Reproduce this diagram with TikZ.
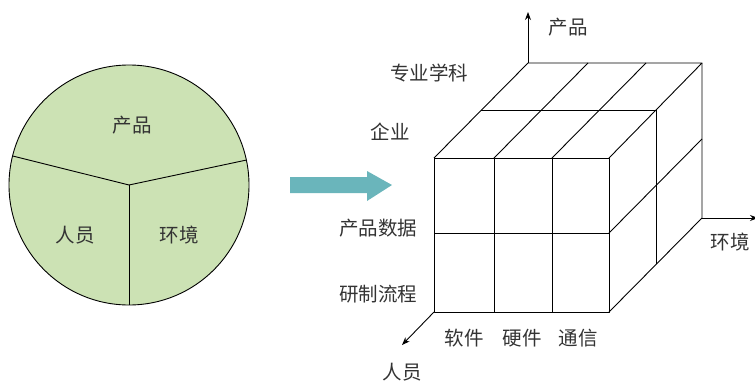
\documentclass[tikz,border=0pt]{standalone}
\usepackage{fontspec}
\newfontfamily\cjk{Noto Sans CJK SC}
\usetikzlibrary{arrows.meta}
\definecolor{pie}{HTML}{CCE2B4}
\definecolor{arrowc}{HTML}{6AB5BB}
\definecolor{txt}{HTML}{333333}
\begin{document}
\begin{tikzpicture}[x=1pt,y=-1pt,
  lbl/.style={font=\cjk\fontsize{19.5}{19.5}\selectfont, text=txt, inner sep=0pt},
  edge/.style={draw=black, line width=0.9pt, line join=round},
  axis/.style={draw=black, line width=0.9pt, -{Stealth[length=8pt,width=6pt]}}]
\useasboundingbox (0,0) rectangle (755,381);
% ---------- pie ----------
\coordinate (c) at (129,185);
\fill[pie] (c) circle (120);
\draw[edge] (c) circle (120);
\draw[edge] (c) -- ++(-166:120) coordinate (pl);
\draw[edge] (c) -- ++(-12:120) coordinate (pr);
\draw[edge] (c) -- ++(0,120) coordinate (pb);
\node[lbl] (p1) at (132,125) {产品};
\node[lbl] (p2) at (75,235) {人员};
\node[lbl] (p3) at (179,235) {环境};
% ---------- arrow ----------
\fill[arrowc] (290,177) -- (367,177) -- (367,171) -- (392,185) -- (367,201) -- (367,193) -- (290,193) -- cycle;
% ---------- cube ----------
\coordinate (f00) at (434,158); \coordinate (f10) at (494,158);
\coordinate (f20) at (552,158); \coordinate (f30) at (609,158);
\coordinate (f01) at (434,233); \coordinate (f31) at (609,233);
\coordinate (f02) at (434,312); \coordinate (f12) at (494,312);
\coordinate (f22) at (552,312); \coordinate (f32) at (609,312);
\coordinate (b00) at (528,63); \coordinate (b30) at (702,63);
\coordinate (b10) at (588,63); \coordinate (b20) at (646,63);
\coordinate (m00) at (481,110); \coordinate (m30) at (656,110);
\coordinate (m32) at (656,264);
\coordinate (b31) at (702,139);
\coordinate (b32) at (702,218);
% front grid
\draw[edge] (f00) rectangle (f32);
\draw[edge] (f10) -- (f12);
\draw[edge] (f20) -- (f22);
\draw[edge] (f01) -- (f31);
% top face
\draw[edge] (f00) -- (b00) -- (b30) -- (f30);
\draw[edge] (f10) -- (b10);
\draw[edge] (f20) -- (b20);
\draw[edge] (m00) -- (m30);
% right face
\draw[edge] (b30) -- (b32) -- (f32);
\draw[edge] (m30) -- (m32);
\draw[edge] (f31) -- (b31);
% axes
\coordinate (ax1) at (528,12);
\coordinate (ax2) at (758,218);
\coordinate (ax3) at (402,345);
\draw[axis] (b00) -- (ax1);
\draw[axis] (b32) -- (ax2);
\draw[axis] (f02) -- (ax3);
% labels
\node[lbl] (l1) at (568,27) {产品};
\node[lbl] (l2) at (730,242) {环境};
\node[lbl] (l3) at (402,372) {人员};
\node[lbl] (l4) at (464,338) {软件};
\node[lbl] (l5) at (522,338) {硬件};
\node[lbl] (l6) at (578,338) {通信};
\node[lbl] (l7) at (429,73) {专业学科};
\node[lbl] (l8) at (390,132) {企业};
\node[lbl] (l9) at (378,228) {产品数据};
\node[lbl] (l10) at (378,294) {研制流程};
\end{tikzpicture}
\end{document}
